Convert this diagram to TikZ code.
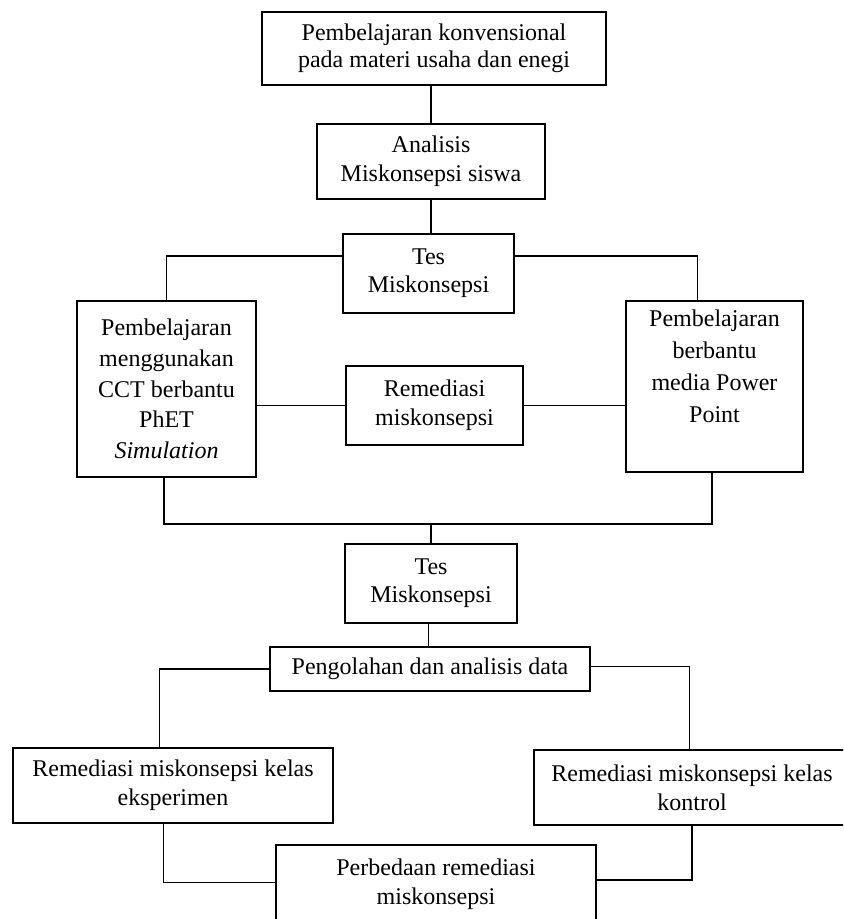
\documentclass[tikz,border=0pt]{standalone}
\usepackage{fontspec}
\setmainfont{Liberation Serif}

\begin{document}
\begin{tikzpicture}[x=0.75pt,y=-0.75pt,line width=1pt,
    box/.style={draw,rectangle,align=center,inner sep=2pt,font=\fontsize{18}{22}\selectfont}]
    \useasboundingbox (0,0) rectangle (843,919);
    \clip (0,0) rectangle (843,919);

    \node[box,minimum width=258pt,minimum height=54.75pt,font=\fontsize{18}{20}\selectfont] (A) at (434,48.5)  {Pembelajaran konvensional\\pada materi usaha dan enegi};
    \node[box,minimum width=171pt,minimum height=56.25pt] (B) at (431,161.5) {Analisis\\Miskonsepsi siswa};
    \node[box,minimum width=128.25pt,minimum height=59.25pt,font=\fontsize{18}{21}\selectfont] (C) at (428.5,273.5) {Tes\\Miskonsepsi};
    \node[box,minimum width=134.25pt,minimum height=132pt,font=\fontsize{18}{23}\selectfont] (D) at (166.5,389) {Pembelajaran\\menggunakan\\CCT berbantu\\PhET\\\textit{Simulation}};
    \node[box,minimum width=132.75pt,minimum height=59.25pt] (E) at (434.5,405.5) {Remediasi\\miskonsepsi};
    \node[box,minimum width=132.75pt,minimum height=128.25pt,font=\fontsize{18}{24}\selectfont] (F) at (714.5,386.5) {Pembelajaran\\berbantu\\media Power\\Point\\\strut};
    \node[box,minimum width=129pt,minimum height=59.25pt,font=\fontsize{18}{21}\selectfont] (G) at (431,583.5) {Tes\\Miskonsepsi};
    \node[box,minimum width=240pt,minimum height=33pt] (H) at (430,669) {Pengolahan dan analisis data};
    \node[box,minimum width=240pt,minimum height=56.25pt] (I) at (173,785.5) {Remediasi miskonsepsi kelas\\eksperimen};
    \node[box,minimum width=237pt,minimum height=56.25pt] (J) at (692,787.5) {Remediasi miskonsepsi kelas\\kontrol};
    \node[box,minimum width=240pt,minimum height=58.5pt] (K) at (436,884) {Perbedaan remediasi\\miskonsepsi};

    \coordinate (M) at (431,524);

    \draw (B.north) -- (B.north |- A.south);
    \draw (B.south) -- (B.south |- C.north);
    \draw ([yshift=13pt]C.west) -| (D.north);
    \draw ([yshift=13pt]C.east) -| ([xshift=-13pt]F.north);
    \draw (E.west) -- (E.west -| D.east);
    \draw (E.east) -- (E.east -| F.west);
    \draw ([xshift=-2pt]D.south) |- (M) -| ([xshift=-2pt]F.south);
    \draw (M) -- (G.north);
    \draw ([xshift=-2pt]G.south) -- ([xshift=-2pt]G.south |- H.north);
    \draw (H.west) -| ([xshift=-10pt]I.north);
    \draw ([yshift=2pt]H.east) -| ([xshift=-2pt]J.north);
    \draw ([xshift=-7pt]I.south) |- ([yshift=1pt]K.west);
    \draw (J.south) |- ([yshift=3pt]K.east);
\end{tikzpicture}
\end{document}
